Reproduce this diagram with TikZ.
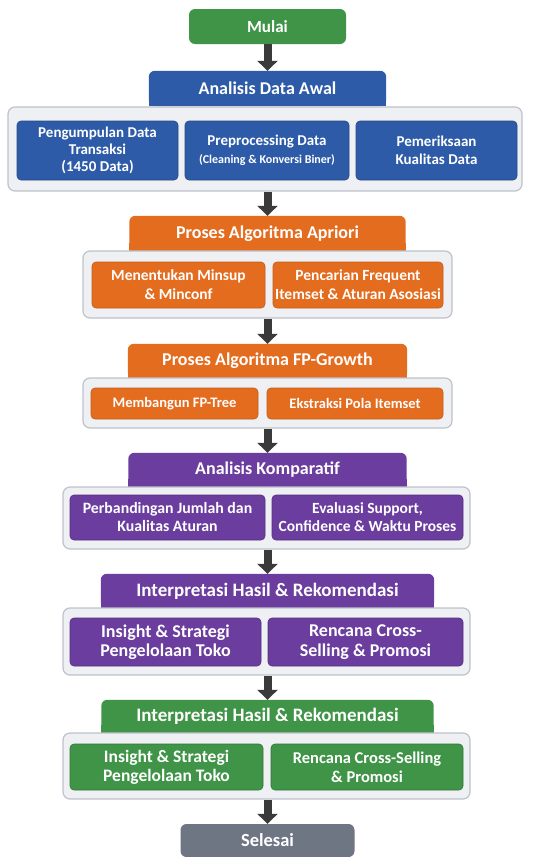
\documentclass[tikz,border=0pt]{standalone}
\usepackage{fontspec}
\setmainfont{Carlito}
\usetikzlibrary{arrows.meta,backgrounds}
\definecolor{cblue}{HTML}{2E5BA8}
\definecolor{corange}{HTML}{E46C1F}
\definecolor{cpurple}{HTML}{6A3D9E}
\definecolor{cgreen}{HTML}{3F9447}
\definecolor{cgrey}{HTML}{6F7683}
\definecolor{carrow}{HTML}{3A3A3A}
\definecolor{cfill}{HTML}{EEF0F3}
\definecolor{cborder}{HTML}{BEC2CA}
\newcommand\hdrfill[2]{%
  \fill[#2, rounded corners=6pt] (#1.south west) rectangle (#1.north east);
  \fill[#2] (#1.south west) rectangle ([yshift=8pt]#1.south east);}
\newcommand\fs[1]{\fontsize{#1}{1.15\dimexpr#1pt\relax}\selectfont}
\tikzset{
  base/.style={inner sep=0pt, align=center, text=white, font=\bfseries\fontsize{18}{21}\selectfont},
  hdrbox/.style={base, minimum height=34pt},
  hdrbig/.style={hdrbox, font=\bfseries\fontsize{19}{22}\selectfont},
  endbox/.style={base, rounded corners=6pt, minimum height=34pt},
  cont/.style={draw=cborder, fill=cfill, line width=1.2pt, rounded corners=7pt, inner sep=0pt},
  inbox/.style={base, rounded corners=4pt, line width=0.6pt},
  arr/.style={draw=carrow, line width=8pt, -{Triangle[width=20pt,length=10pt]}}
}
\begin{document}
\begin{tikzpicture}[x=1pt,y=-1pt]
\useasboundingbox (0,0) rectangle (549,857);
\begin{pgfonlayer}{background}
\fill[white] (0,0) rectangle (549,857);
\end{pgfonlayer}

% Start
\node[endbox, fill=cgreen, minimum width=157pt, minimum height=35pt, font=\bfseries\fontsize{17}{20}\selectfont] (start) at (267.5,26.5) {Mulai};

% Block 1
\node[hdrbox, minimum width=237pt, minimum height=35pt] (h1) at (267.5,88.5) {Analisis Data Awal};
\node[cont, minimum width=514pt, minimum height=84pt] (c1) at (265,149) {};
\node[inbox, fill=cblue, draw=cblue!80!black, minimum width=161pt, minimum height=59pt, font=\bfseries\fontsize{15}{17}\selectfont] (b11) at (97.5,150.5) {Pengumpulan Data\\Transaksi\\(1450 Data)};
\node[inbox, fill=cblue, draw=cblue!80!black, minimum width=164pt, minimum height=59pt, font=\bfseries\fontsize{15}{18}\selectfont] (b12) at (267,150.5) {Preprocessing Data\\{\fontsize{12}{18}\selectfont (Cleaning \& Konversi Biner)}};
\node[inbox, fill=cblue, draw=cblue!80!black, minimum width=161pt, minimum height=59pt, font=\bfseries\fontsize{15}{18}\selectfont] (b13) at (436.5,150.5) {Pemeriksaan\\Kualitas Data};

% Block 2
\node[hdrbox, minimum width=276pt, minimum height=35pt] (h2) at (267.5,233.5) {Proses Algoritma Apriori};
\node[cont, minimum width=369pt, minimum height=67pt] (c2) at (267.5,284.5) {};
\node[inbox, fill=corange, draw=corange!85!black, minimum width=173pt, minimum height=46pt, font=\bfseries\fontsize{15.5}{19}\selectfont] (b21) at (178.5,285) {Menentukan Minsup\\\& Minconf};
\node[inbox, fill=corange, draw=corange!85!black, minimum width=170pt, minimum height=46pt, font=\bfseries\fontsize{15.5}{19}\selectfont] (b22) at (358,285) {Pencarian Frequent\\Itemset \& Aturan Asosiasi};

% Block 3
\node[hdrbox, minimum width=279pt] (h3) at (267.5,361) {Proses Algoritma FP-Growth};
\node[cont, minimum width=369pt, minimum height=50pt] (c3) at (267.5,403) {};
\node[inbox, fill=corange, draw=corange!85!black, minimum width=167pt, minimum height=31pt, font=\bfseries\fontsize{14.5}{17}\selectfont] (b31) at (174.5,403.5) {Membangun FP-Tree};
\node[inbox, fill=corange, draw=corange!85!black, minimum width=176pt, minimum height=31pt, font=\bfseries\fontsize{14.5}{17}\selectfont] (b32) at (355,403.5) {Ekstraksi Pola Itemset};

% Block 4
\node[hdrbox, minimum width=278pt] (h4) at (267.5,470) {Analisis Komparatif};
\node[cont, minimum width=407pt, minimum height=62pt] (c4) at (266.5,518) {};
\node[inbox, fill=cpurple, draw=cpurple!80!black, minimum width=195pt, minimum height=45pt, font=\bfseries\fontsize{15.8}{18}\selectfont] (b41) at (167.5,517.5) {Perbandingan Jumlah dan\\Kualitas Aturan};
\node[inbox, fill=cpurple, draw=cpurple!80!black, minimum width=191pt, minimum height=45pt, font=\bfseries\fontsize{15.5}{18}\selectfont] (b42) at (367.5,517.5) {Evaluasi Support,\\Confidence \& Waktu Proses};

% Block 5
\node[hdrbig, minimum width=333pt] (h5) at (267.5,591) {Interpretasi Hasil \& Rekomendasi};
\node[cont, minimum width=407pt, minimum height=67pt] (c5) at (266.5,641.5) {};
\node[inbox, fill=cpurple, draw=cpurple!80!black, minimum width=191pt, minimum height=48pt, font=\bfseries\fontsize{18}{19.5}\selectfont] (b51) at (165.5,642) {Insight \& Strategi\\Pengelolaan Toko};
\node[inbox, fill=cpurple, draw=cpurple!80!black, minimum width=195pt, minimum height=48pt, font=\bfseries\fontsize{18}{19.5}\selectfont] (b52) at (365.5,642) {Rencana Cross-\\Selling \& Promosi};

% Block 6
\node[hdrbig, minimum width=332pt, minimum height=33pt] (h6) at (267.5,716.5) {Interpretasi Hasil \& Rekomendasi};
\node[cont, minimum width=407pt, minimum height=66pt] (c6) at (266.5,766) {};
\node[inbox, fill=cgreen, draw=cgreen!80!black, minimum width=193pt, minimum height=46pt, font=\bfseries\fontsize{17.5}{19}\selectfont] (b61) at (166.5,767) {Insight \& Strategi\\Pengelolaan Toko};
\node[inbox, fill=cgreen, draw=cgreen!80!black, minimum width=192pt, minimum height=46pt, font=\bfseries\fontsize{16.5}{19}\selectfont] (b62) at (367,767) {Rencana Cross-Selling\\\& Promosi};

% End
\node[endbox, fill=cgrey, minimum width=174pt, minimum height=33pt, font=\bfseries\fontsize{18.5}{21}\selectfont] (end) at (267.5,840.5) {Selesai};

\begin{pgfonlayer}{background}
\hdrfill{h1}{cblue}
\hdrfill{h2}{corange}
\hdrfill{h3}{corange}
\hdrfill{h4}{cpurple}
\hdrfill{h5}{cpurple}
\hdrfill{h6}{cgreen}
\end{pgfonlayer}

% Arrows
\draw[arr] (start) -- (h1);
\draw[arr] (c1.south -| h2.north) -- (h2.north);
\draw[arr] (c2.south -| h3.north) -- (h3.north);
\draw[arr] (c3.south -| h4.north) -- (h4.north);
\draw[arr] (c4.south -| h5.north) -- (h5.north);
\draw[arr] (c5.south -| h6.north) -- (h6.north);
\draw[arr] (c6.south -| end.north) -- (end.north);
\end{tikzpicture}
\end{document}
